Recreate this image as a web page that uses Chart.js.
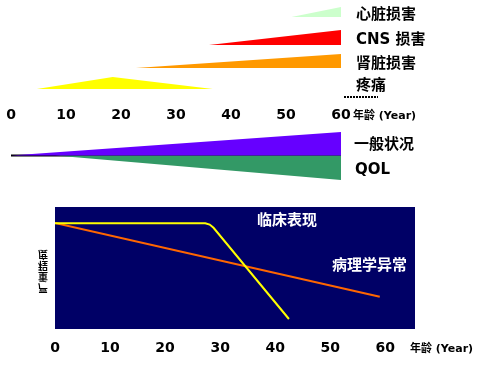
<!DOCTYPE html>
<html>
<head>
<meta charset="utf-8">
<script src="https://cdn.jsdelivr.net/npm/chart.js@4/dist/chart.umd.min.js"></script>
<style>
  html,body{margin:0;padding:0;background:#fff;}
  body{width:486px;height:367px;position:relative;overflow:hidden;}
  canvas{position:absolute;left:0;}
</style>
</head>
<body>
<canvas id="cTop" width="486" height="127" style="top:0"></canvas>
<canvas id="cMid" width="486" height="65" style="top:125px"></canvas>
<canvas id="cBot" width="486" height="172" style="top:195px"></canvas>
<script>
// ---------- DATA ----------
const ageTicks = [0, 10, 20, 30, 40, 50, 60];
const axisTitle = '年龄 (Year)';

// organ damage wedges (top panel)
const damageNames    = ['心脏损害', 'CNS 损害', '肾脏损害', '疼痛'];
const damageOnset    = [51, 36, 22.7, 4.7];
const damagePeakAge  = [60, 60, 60, 18.5];
const damageEnd      = [60, 60, 60, 36.7];
const damageSeverity = [10, 15, 14, 12];

// general condition / QOL (middle panel)
const generalName  = '一般状况';
const generalAges  = [0, 60];
const generalScore = [0, 23.5];
const qolName      = 'QOL';
const qolAges      = [8, 60];
const qolScore     = [0, -24.5];

// clinical vs pathological (bottom panel)
const clinicalName  = '临床表现';
const clinicalAges  = [0, 27.3, 28.1, 28.8, 42.5];
const clinicalLevel = [86.6, 86.6, 85.6, 83.0, 8.2];
const pathoName     = '病理学异常';
const pathoAges     = [0, 59];
const pathoLevel    = [86.9, 26.5];
const yAxisTitle    = '严重程度';

// ---------- STYLE / LAYOUT ----------
const FONT = '"DejaVu Sans", "Noto Sans CJK SC", sans-serif';
const damageColors = ['#ccffcc', '#ff0000', '#ff9900', '#ffff00'];
const rowBase = [17, 45, 68, 89];        // baseline of each wedge row (top panel y-units)
const rowLabelY = [15, 40, 64, 86];

function tickSetter(scale){ scale.ticks = ageTicks.map(v => ({value: v})); }
function fixHeight(h){ return function(scale){ scale.height = h; }; }

const commonPlugins = { legend: {display: false}, tooltip: {enabled: false} };

// ---------- TOP PANEL ----------
const topDatasets = damageNames.map((n, i) => {
  const pts = [{x: damageOnset[i], y: rowBase[i]},
               {x: damagePeakAge[i], y: rowBase[i] - damageSeverity[i]}];
  if (damageEnd[i] > damagePeakAge[i]) pts.push({x: damageEnd[i], y: rowBase[i]});
  return {
    label: n, data: pts, borderWidth: 0, pointRadius: 0, tension: 0,
    backgroundColor: damageColors[i], borderColor: 'rgba(0,0,0,0)',
    fill: {value: rowBase[i]}
  };
});

const topText = {
  id: 'topText',
  afterDraw(chart){
    const ctx = chart.ctx;
    ctx.save();
    ctx.fillStyle = '#000';
    ctx.textBaseline = 'middle';
    ctx.textAlign = 'left';
    ctx.font = 'bold 15px ' + FONT;
    damageNames.forEach((n, i) => ctx.fillText(n, 356, rowLabelY[i]));
    ctx.font = 'bold 11px ' + FONT;
    ctx.fillText(axisTitle, 353, 116);
    ctx.strokeStyle = '#000';
    ctx.lineWidth = 2;
    ctx.setLineDash([2, 1]);
    ctx.beginPath(); ctx.moveTo(344, 97); ctx.lineTo(378, 97); ctx.stroke();
    ctx.restore();
  }
};

new Chart(document.getElementById('cTop'), {
  type: 'line',
  data: {datasets: topDatasets},
  options: {
    responsive: false, animation: false,
    layout: {autoPadding: false, padding: {left: 11, right: 145, top: 0, bottom: 0}},
    plugins: commonPlugins,
    scales: {
      x: {type: 'linear', min: 0, max: 60, afterBuildTicks: tickSetter, afterFit: fixHeight(23),
          grid: {display: false, drawTicks: false}, border: {display: false},
          ticks: {color: '#000', padding: 3, maxRotation: 0, autoSkip: false,
                  font: {family: FONT, size: 14, weight: 'bold'}}},
      y: {display: false, min: 0, max: 104, reverse: true}
    }
  },
  plugins: [topText]
});

// ---------- MIDDLE PANEL ----------
const midText = {
  id: 'midText',
  afterDraw(chart){
    const ctx = chart.ctx;
    ctx.save();
    ctx.fillStyle = '#000';
    ctx.textBaseline = 'middle';
    ctx.font = 'bold 15px ' + FONT;
    ctx.fillText(generalName, 354, 20);
    ctx.fillText(qolName, 355, 45);
    ctx.restore();
  }
};

new Chart(document.getElementById('cMid'), {
  type: 'line',
  data: {datasets: [
    {data: generalAges.map((a, i) => ({x: a, y: generalScore[i]})), backgroundColor: '#6600ff',
     borderWidth: 0, borderColor: 'rgba(0,0,0,0)', pointRadius: 0, fill: {value: 0}},
    {data: qolAges.map((a, i) => ({x: a, y: qolScore[i]})), backgroundColor: '#339966',
     borderWidth: 0, borderColor: 'rgba(0,0,0,0)', pointRadius: 0, fill: {value: 0}},
    {data: [{x: generalAges[0], y: 0}, {x: generalAges[generalAges.length - 1], y: 0}],
     borderColor: '#000', borderWidth: 2, pointRadius: 0, fill: false}
  ]},
  options: {
    responsive: false, animation: false,
    layout: {autoPadding: false, padding: {left: 11, right: 145, top: 0, bottom: 0}},
    plugins: commonPlugins,
    scales: {
      x: {type: 'linear', display: false, min: 0, max: 60},
      y: {display: false, min: -34.5, max: 30.5}
    }
  },
  plugins: [midText]
});

// ---------- BOTTOM PANEL ----------
const navyBg = {
  id: 'navyBg',
  beforeDraw(chart){
    const a = chart.chartArea, ctx = chart.ctx;
    ctx.save();
    ctx.fillStyle = '#000066';
    ctx.fillRect(a.left, a.top, a.right - a.left, a.bottom - a.top);
    ctx.restore();
  }
};
const botText = {
  id: 'botText',
  afterDraw(chart){
    const ctx = chart.ctx;
    ctx.save();
    ctx.textBaseline = 'middle';
    ctx.fillStyle = '#fff';
    ctx.font = 'bold 15px ' + FONT;
    ctx.fillText(clinicalName, 257, 26);
    ctx.fillText(pathoName, 332, 71);
    ctx.fillStyle = '#000';
    ctx.font = 'bold 11px ' + FONT;
    ctx.fillText(axisTitle, 410, 154);
    // vertical, flipped axis title
    ctx.font = 'bold 10px ' + FONT;
    ctx.textAlign = 'center';
    ctx.translate(43, 75);
    ctx.scale(1, -1);
    const chars = Array.from(yAxisTitle);
    chars.forEach((c, i) => ctx.fillText(c, 0, (i - (chars.length - 1) / 2) * 11));
    ctx.restore();
  }
};

new Chart(document.getElementById('cBot'), {
  type: 'line',
  data: {datasets: [
    {data: clinicalAges.map((a, i) => ({x: a, y: clinicalLevel[i]})), borderColor: '#ffff00',
     borderWidth: 2, pointRadius: 0, fill: false, tension: 0},
    {data: pathoAges.map((a, i) => ({x: a, y: pathoLevel[i]})), borderColor: '#ff6600',
     borderWidth: 2, pointRadius: 0, fill: false}
  ]},
  options: {
    responsive: false, animation: false,
    layout: {autoPadding: false, padding: {left: 55, right: 71, top: 12, bottom: 0}},
    plugins: commonPlugins,
    scales: {
      x: {type: 'linear', min: 0, max: 65.4, afterBuildTicks: tickSetter, afterFit: fixHeight(38),
          grid: {display: false, drawTicks: false}, border: {display: false},
          ticks: {color: '#000', padding: 11, maxRotation: 0, autoSkip: false,
                  font: {family: FONT, size: 14, weight: 'bold'}}},
      y: {display: false, min: 0, max: 100}
    }
  },
  plugins: [navyBg, botText]
});
</script>
</body>
</html>
